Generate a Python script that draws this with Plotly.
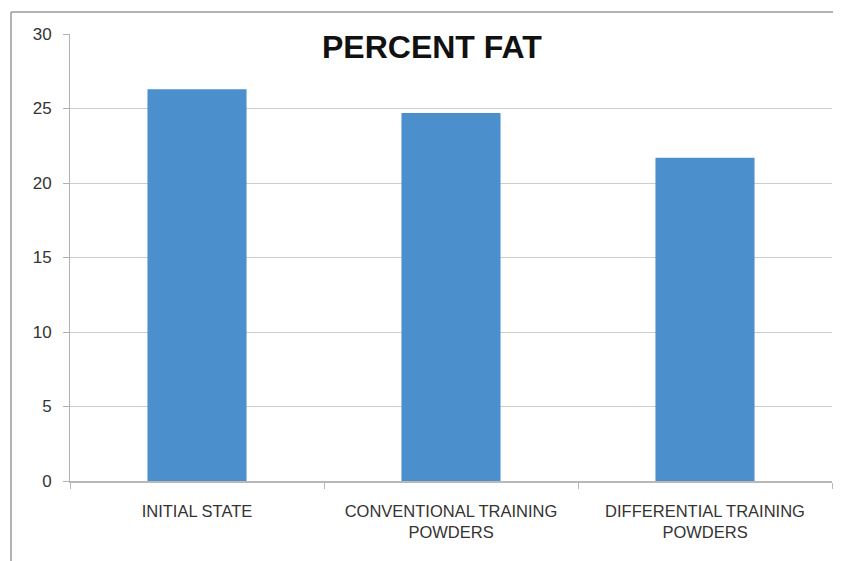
import plotly.graph_objects as go

categories = ["INITIAL STATE", "CONVENTIONAL TRAINING<br>POWDERS", "DIFFERENTIAL TRAINING<br>POWDERS"]
values = [26.3, 24.7, 21.7]
y_ticks = [0, 5, 10, 15, 20, 25, 30]
title_text = "PERCENT FAT"

OFF = 8  # page body margin
W, H = 841 - OFF, 561 - OFF
ml, mr, mt, mb = 70 - OFF, 9, 34 - OFF, 80
pw, ph = W - ml - mr, H - mt - mb

def px_to_paper_x(px):
    return (px - OFF - ml) / pw

def px_to_paper_y(py):
    return (H - mb - (py - OFF)) / ph

fig = go.Figure(go.Bar(
    x=categories, y=values,
    marker=dict(color="#4B8FCC", line=dict(width=0)),
    width=0.39,
))

fig.update_layout(
    width=W, height=H,
    margin=dict(l=ml, r=mr, t=mt, b=mb),
    paper_bgcolor="white", plot_bgcolor="white",
    showlegend=False,
    font=dict(family="Liberation Sans, Arial, sans-serif", color="#444444"),
    annotations=[dict(
        text=f"<b>{title_text}</b>", x=px_to_paper_x(432), y=px_to_paper_y(47),
        xref="paper", yref="paper", showarrow=False,
        font=dict(size=32, color="#111111", family="Liberation Sans, Arial, sans-serif"),
        xanchor="center", yanchor="middle",
    )],
    shapes=[
        dict(type="line", xref="paper", yref="paper",
             x0=px_to_paper_x(11), x1=px_to_paper_x(11),
             y0=px_to_paper_y(12), y1=px_to_paper_y(H + 20),
             line=dict(color="#9a9a9a", width=1.5)),
        dict(type="line", xref="paper", yref="paper",
             x0=px_to_paper_x(11), x1=px_to_paper_x(W + 20),
             y0=px_to_paper_y(12), y1=px_to_paper_y(12),
             line=dict(color="#9a9a9a", width=1.5)),
    ],
)

fig.update_yaxes(
    range=[0, 30], tickvals=y_ticks,
    showgrid=True, gridcolor="#cccccc", gridwidth=1,
    showline=True, linecolor="#b0b0b0", linewidth=1,
    ticks="outside", ticklen=6, tickcolor="#b0b0b0",
    tickfont=dict(size=17, color="#333333"),
    ticklabelstandoff=8,
    zeroline=False,
)
fig.update_xaxes(
    showline=True, linecolor="#b8b8b8", linewidth=1.5,
    ticks="outside", ticklen=6, tickcolor="#b8b8b8", tickson="boundaries",
    tickfont=dict(size=16.5, color="#333333"),
    ticklabelstandoff=14,
)

fig.write_html("out.html")
